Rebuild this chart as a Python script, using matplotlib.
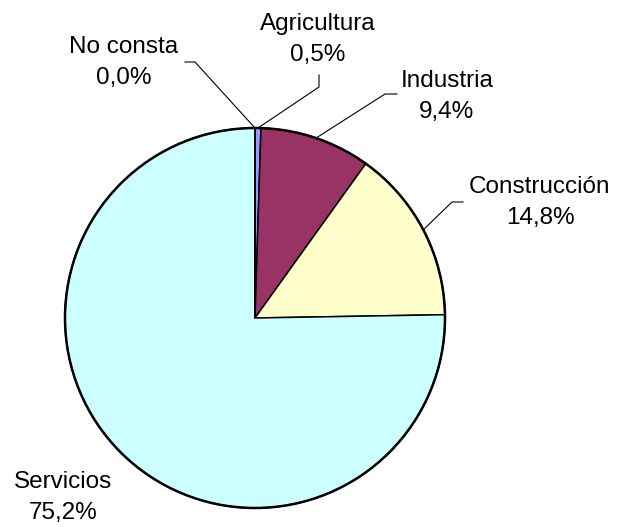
import numpy as np
import matplotlib
matplotlib.use("Agg")
from matplotlib import pyplot as plt

# data
labels = ['Agricultura', 'Industria', 'Construcción', 'Servicios', 'No consta']
values = [0.5, 9.4, 14.8, 75.2, 0.0]
pct_text = ['0,5%', '9,4%', '14,8%', '75,2%', '0,0%']
colors = ['#9999FF', '#993366', '#FFFFCC', '#CCFFFF', '#FFFFFF']

# layout (pixels, y measured from top)
W, H = 617, 527
cx, cy, R = 255, 318, 190
label_pos = [(318, 30), (447, 87), (540, 193), (63, 488), (124, 53)]
elbows = [[(319, 87), (319, 75)],
          [(385, 94), (397, 94)],
          [(452, 202), (463, 202)],
          None,
          [(195, 62), (185, 62)]]

plt.rcParams['font.family'] = ['Liberation Sans', 'DejaVu Sans']

fig = plt.figure(figsize=(W / 100, H / 100), dpi=100)
ax = fig.add_axes([0, 0, 1, 1])

wedges, _ = ax.pie(values, colors=colors, startangle=90, counterclock=False,
                   center=(cx, H - cy), radius=R, normalize=True,
                   wedgeprops=dict(edgecolor='black', linewidth=1.1))
ax.add_patch(plt.Circle((cx, H - cy), R, fill=False, edgecolor='black',
                        linewidth=1.8, zorder=5))

total = sum(values)
start = 0.0
for i, v in enumerate(values):
    mid = (start + v / 2) / total * 2 * np.pi
    start += v
    px = cx + R * np.sin(mid)
    py = cy - R * np.cos(mid)
    if elbows[i] is not None:
        pts = [(px, py)] + elbows[i]
        ax.plot([p[0] for p in pts], [H - p[1] for p in pts], color='black',
                linewidth=0.8, zorder=6)
    lx, ly = label_pos[i]
    ax.text(lx, H - ly, labels[i], ha='center', va='baseline', fontsize=17.5)
    ax.text(lx, H - ly - 31, pct_text[i], ha='center', va='baseline', fontsize=17.5)

ax.set_xlim(0, W)
ax.set_ylim(0, H)
ax.set_aspect('equal')
ax.axis('off')

fig.savefig('out.png', dpi=100, facecolor='white')
